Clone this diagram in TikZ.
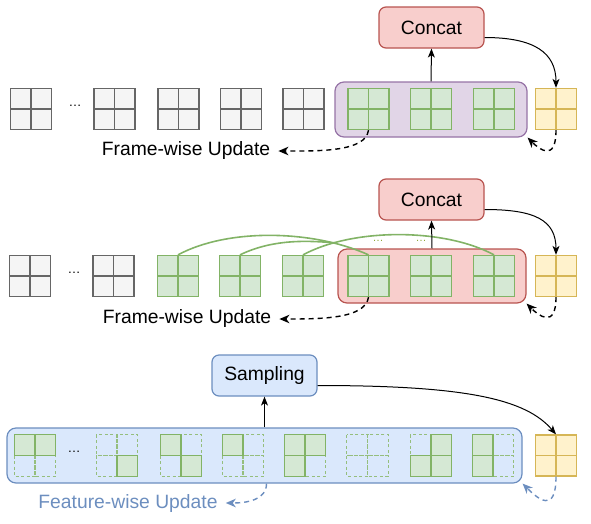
\documentclass[tikz,border=0pt]{standalone}
\usepackage{fontspec}
\setmainfont{Liberation Sans}
\usetikzlibrary{arrows.meta}
\definecolor{grayF}{HTML}{F5F5F5}
\definecolor{grayS}{HTML}{666666}
\definecolor{greenF}{HTML}{D5E8D4}
\definecolor{greenS}{HTML}{82B366}
\definecolor{dotC}{HTML}{8FA83A}
\definecolor{yelF}{HTML}{FFF2CC}
\definecolor{yelS}{HTML}{D6B656}
\definecolor{purF}{HTML}{E1D5E7}
\definecolor{purS}{HTML}{9673A6}
\definecolor{redF}{HTML}{F8CECC}
\definecolor{redS}{HTML}{B85450}
\definecolor{bluF}{HTML}{DAE8FC}
\definecolor{bluS}{HTML}{6C8EBF}
\newcommand\mydashq[4]{\ifnum#2=0 \draw[qdash] (#1.#3) rectangle (#1.#4);\fi}
\newcommand\myfillq[4]{\ifnum#2=1 \draw[qfill] (#1.#3) rectangle (#1.#4);\fi}
\newcommand\qcell[7]{%
  \node[qbase] (#1) at (#2,#3) {};
  \mydashq{#1}{#4}{north west}{center}
  \mydashq{#1}{#5}{north}{east}
  \mydashq{#1}{#6}{west}{south}
  \mydashq{#1}{#7}{center}{south east}
  \myfillq{#1}{#4}{north west}{center}
  \myfillq{#1}{#5}{north}{east}
  \myfillq{#1}{#6}{west}{south}
  \myfillq{#1}{#7}{center}{south east}
}
\begin{document}
\begin{tikzpicture}[x=1pt,y=-1pt,
  font=\fontsize{19.3}{23}\selectfont,
  cellx/.style 2 args={draw=#2, fill=#1, minimum size=41pt, inner sep=0pt, line width=1.3pt,
    path picture={\draw[#2, line width=1.3pt] (path picture bounding box.north) -- (path picture bounding box.south)
      (path picture bounding box.west) -- (path picture bounding box.east);}},
  graycell/.style={cellx={grayF}{grayS}},
  greencell/.style={cellx={greenF}{greenS}},
  yelcell/.style={cellx={yelF}{yelS}},
  qbase/.style={minimum size=41pt, inner sep=0pt},
  qdash/.style={draw=greenS!85, line width=1.1pt, dash pattern=on 3pt off 2.5pt},
  qfill/.style={draw=greenS, fill=greenF, line width=1.3pt},
  bigbox/.style 2 args={draw=#2, fill=#1, rounded corners=9pt, line width=1.2pt, inner sep=0pt},
  opbox/.style 2 args={draw=#2, fill=#1, rounded corners=7pt, line width=1.2pt, minimum width=105pt, minimum height=41pt, inner sep=0pt},
  arr/.style={draw=black, line width=1pt, -{Stealth[length=9pt,width=7pt,inset=2.5pt]}},
  darr/.style={draw=black, line width=1.4pt, dash pattern=on 5pt off 4pt, -{Stealth[length=10pt,width=8.5pt,inset=3pt]}},
  bdarr/.style={draw=bluS, line width=1.4pt, dash pattern=on 5pt off 4pt, -{Stealth[length=10pt,width=8.5pt,inset=3pt]}},
  arcline/.style={draw=greenS, line width=1.6pt},
  ell/.style={font=\fontsize{13}{15}\selectfont, inner sep=0pt},
  lbl/.style={inner xsep=8pt, inner ysep=2pt}
]
\useasboundingbox (0,0) rectangle (591,523);

% ---------- Row 1 ----------
\node[bigbox={purF}{purS}, minimum width=192pt, minimum height=55pt] (pbox) at (431,109.5) {};
\node[graycell] (a1) at (31,109) {};
\node[ell] (e1) at (75,106) {…};
\node[graycell] (a2) at (114.5,109) {};
\node[graycell] (a3) at (178.5,109) {};
\node[graycell] (a4) at (241,109) {};
\node[graycell] (a5) at (303.5,109) {};
\node[greencell] (a6) at (368.5,109) {};
\node[greencell] (a7) at (431,109) {};
\node[greencell] (a8) at (494,109) {};
\node[yelcell] (y1) at (556,109) {};
\node[opbox={redF}{redS}] (c1) at (431.5,27.5) {Concat};
\node[lbl] (t1) at (186,151) {Frame-wise Update};
\draw[arr] (pbox.north) -- (c1.south);
\draw[arr] ([yshift=-10pt]c1.east) .. controls +(50,0) and +(0,-35) .. (y1.north);
\draw[darr] (y1.south) .. controls +(0,32) and +(12,12) .. (pbox.south east);
\draw[darr] (a6.south) .. controls +(-3,22) and +(40,0) .. (t1.east);

% ---------- Row 2 ----------
\node[bigbox={redF}{redS}, minimum width=188pt, minimum height=54pt] (rbox) at (432,276) {};
\node[graycell] (b1) at (30,276) {};
\node[ell] (e2) at (74,273) {…};
\node[graycell] (b2) at (113.5,276) {};
\node[greencell] (b3) at (178,276) {};
\node[greencell] (b4) at (240,276) {};
\node[greencell] (b5) at (303,276) {};
\node[greencell] (b6) at (368.5,276) {};
\node[greencell] (b7) at (431,276) {};
\node[greencell] (b8) at (494,276) {};
\node[yelcell] (y2) at (556,276) {};
\node[opbox={redF}{redS}] (c2) at (431.5,199.5) {Concat};
\node[lbl] (t2) at (187,319) {Frame-wise Update};
\coordinate (arcend) at (337,243);
\draw[arcline] (b3.north) .. controls +(50,-27) and +(-55,-25) .. (b6.north);
\draw[arcline] (b4.north) .. controls +(35,-17) and +(-25,-2) .. (arcend);
\draw[arcline] (b5.north) .. controls +(50,-27) and +(-50,-27) .. (b8.north);
\node[ell, text=dotC, font=\fontsize{11}{13}\selectfont] (e3) at (378,241) {…};
\node[ell, text=dotC, font=\fontsize{11}{13}\selectfont] (e4) at (421,241) {…};
\draw[arr] (rbox.north) -- (c2.south);
\draw[arr] ([yshift=-10pt]c2.east) .. controls +(50,0) and +(0,-35) .. (y2.north);
\draw[darr] (y2.south) .. controls +(0,32) and +(12,12) .. (rbox.south east);
\draw[darr] (b6.south) .. controls +(-3,22) and +(40,0) .. (t2.east);

% ---------- Row 3 ----------
\node[bigbox={bluF}{bluS}, minimum width=515pt, minimum height=55pt] (bbox) at (264.5,455.5) {};
\qcell{q1}{35}{455.5}{1}{1}{0}{0}
\node[ell] (e5) at (74,452) {…};
\qcell{q2}{117}{455.5}{0}{0}{0}{1}
\qcell{q3}{181}{455.5}{1}{0}{0}{1}
\qcell{q4}{243}{455.5}{1}{0}{0}{0}
\qcell{q5}{305}{455.5}{1}{1}{1}{0}
\qcell{q6}{367.5}{455.5}{0}{0}{0}{0}
\qcell{q7}{431}{455.5}{0}{1}{1}{1}
\qcell{q8}{493}{455.5}{1}{0}{1}{0}
\node[yelcell] (y3) at (556,455.5) {};
\node[opbox={bluF}{bluS}] (samp) at (264.5,375.5) {Sampling};
\node[lbl, text=bluS] (t3) at (128,503) {Feature-wise Update};
\draw[arr] (bbox.north) -- (samp.south);
\draw[arr] ([yshift=-10pt]samp.east) .. controls +(150,0) and +(-30,-35) .. (y3.north);
\draw[bdarr] (y3.south) .. controls +(0,38) and +(15,15) .. (bbox.south east);
\draw[bdarr] ([xshift=2pt]bbox.south) .. controls +(0,16) and +(22,0) .. (t3.east);
\end{tikzpicture}
\end{document}
